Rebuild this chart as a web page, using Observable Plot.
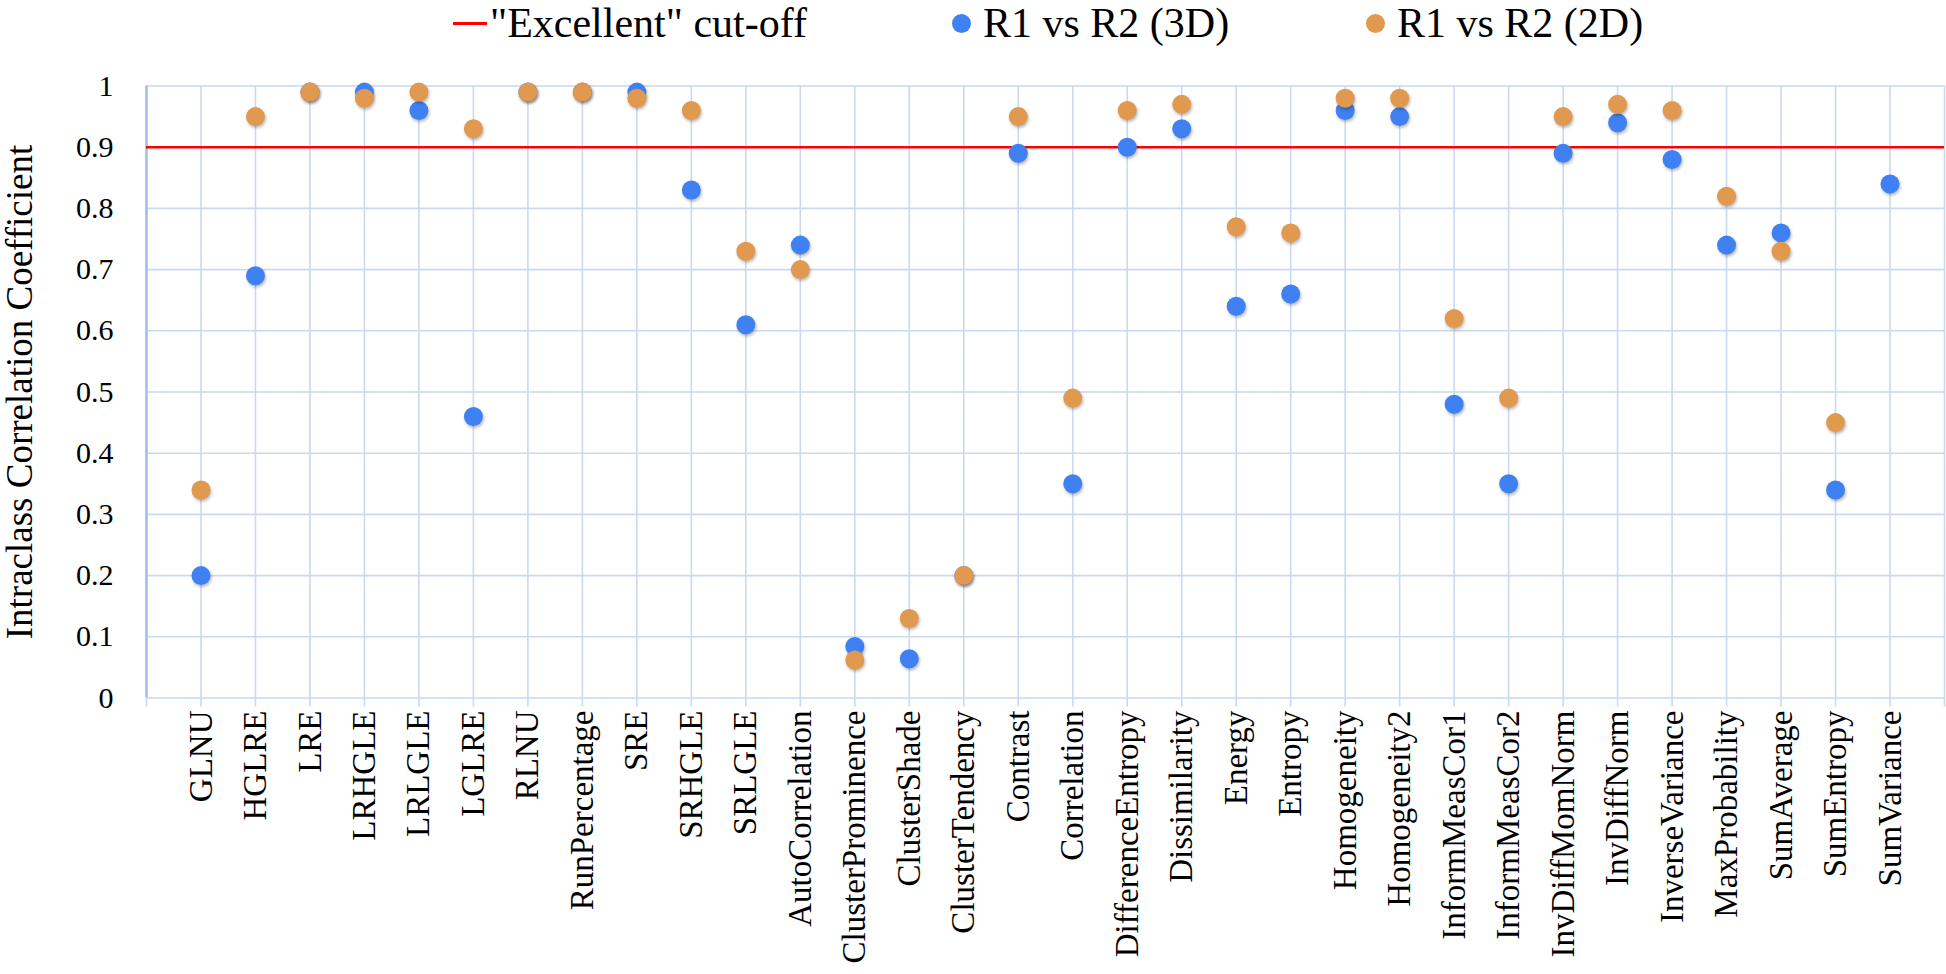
<!DOCTYPE html>
<html>
<head>
<meta charset="utf-8">
<script src="https://cdn.jsdelivr.net/npm/d3@7"></script>
<script src="https://cdn.jsdelivr.net/npm/@observablehq/plot@0.6"></script>
<style>
  html, body { margin: 0; padding: 0; background: #fff; }
  body { width: 1946px; height: 974px; overflow: hidden; font-family: "Liberation Serif", "Times New Roman", serif; }
  #legend { position: relative; height: 50px; width: 1946px; }
  #legend .txt { position: absolute; top: 0px; font-size: 42px; line-height: 47px; color: #000; white-space: nowrap; }
  #legend .line { position: absolute; height: 3px; background: #ff0000; }
  #legend .dot { position: absolute; border-radius: 50%; }
  #chart svg g[aria-label="dot"] circle { filter: drop-shadow(1px 2px 1.5px rgba(0,0,0,0.28)); }
</style>
</head>
<body>
<div id="legend"></div>
<div id="chart"></div>
<script>
const categories = ["GLNU","HGLRE","LRE","LRHGLE","LRLGLE","LGLRE","RLNU","RunPercentage","SRE","SRHGLE","SRLGLE","AutoCorrelation","ClusterProminence","ClusterShade","ClusterTendency","Contrast","Correlation","DifferenceEntropy","Dissimilarity","Energy","Entropy","Homogeneity","Homogeneity2","InformMeasCor1","InformMeasCor2","InvDiffMomNorm","InvDiffNorm","InverseVariance","MaxProbability","SumAverage","SumEntropy","SumVariance"];
const r1vsR2_3D = [0.20,0.69,0.99,0.99,0.96,0.46,0.99,0.99,0.99,0.83,0.61,0.74,0.084,0.064,0.20,0.89,0.35,0.90,0.93,0.64,0.66,0.96,0.95,0.48,0.35,0.89,0.94,0.88,0.74,0.76,0.34,0.84];
const r1vsR2_2D = [0.34,0.95,0.99,0.98,0.99,0.93,0.99,0.99,0.98,0.96,0.73,0.70,0.062,0.13,0.20,0.95,0.49,0.96,0.97,0.77,0.76,0.98,0.98,0.62,0.49,0.95,0.97,0.96,0.82,0.73,0.45,null];
const cutoff = [0.9];
const yTicks = [0,0.1,0.2,0.3,0.4,0.5,0.6,0.7,0.8,0.9,1];
const seriesNames = ['"Excellent" cut-off', "R1 vs R2 (3D)", "R1 vs R2 (2D)"];
const yTitle = "Intraclass Correlation Coefficient";

const blue = "#3f81f2";
const orange = "#e0994f";
const grid = "#c9d9f0";
const axisBlue = "#9fbfea";

// legend
const legend = document.getElementById("legend");
function add(cls, style, text) {
  const el = document.createElement("div");
  el.className = cls;
  Object.assign(el.style, style);
  if (text) el.textContent = text;
  legend.appendChild(el);
}
add("line", {left: "453px", top: "22px", width: "34px"});
add("txt", {left: "490px"}, seriesNames[0]);
add("dot", {left: "952px", top: "14px", width: "19px", height: "19px", background: blue});
add("txt", {left: "983px"}, seriesNames[1]);
add("dot", {left: "1366px", top: "14px", width: "19px", height: "19px", background: orange});
add("txt", {left: "1397px"}, seriesNames[2]);

const data = categories.map((c, i) => ({i: i + 1, name: c, v3: r1vsR2_3D[i], v2: r1vsR2_2D[i]}));
const xGrid = d3.range(categories.length + 2);

const chart = Plot.plot({
  width: 1946,
  height: 924,
  marginTop: 35.5,
  marginBottom: 276.5,
  marginLeft: 146,
  marginRight: 2,
  style: {fontFamily: "Liberation Serif, serif", fontSize: "30px", color: "#000", background: "transparent"},
  x: {domain: [0, categories.length + 1]},
  y: {domain: [0, 1]},
  marks: [
    Plot.ruleY(yTicks, {stroke: grid, strokeWidth: 1.6}),
    Plot.ruleX(xGrid, {y1: 0, y2: 1, stroke: grid, strokeWidth: 1.6}),
    Plot.axisX(xGrid, {
      tickSize: 9, tickPadding: 3.5, tickRotate: -90,
      tickFormat: d => categories[d - 1] ?? "",
      stroke: grid, strokeWidth: 1.6, fill: "#000", fontSize: 33, label: null
    }),
    Plot.ruleX([0], {y1: 0, y2: 1, stroke: axisBlue, strokeWidth: 2.5}),
    Plot.axisY(yTicks, {
      tickSize: 0, tickPadding: 33, fontSize: 30, fill: "#000",
      tickFormat: d => String(+d.toFixed(1)), label: null
    }),
    Plot.ruleY(cutoff, {stroke: "#ff0000", strokeWidth: 2.6}),
    Plot.dot(data, {x: "i", y: "v3", r: 9.5, fill: blue}),
    Plot.dot(data.filter(d => d.v2 != null), {x: "i", y: "v2", r: 9.5, fill: orange}),
    Plot.text([yTitle], {frameAnchor: "left", textAnchor: "middle", dx: -126, rotate: -90, fontSize: 37, fill: "#000", text: d => d})
  ]
});
document.getElementById("chart").appendChild(chart);
</script>
</body>
</html>
